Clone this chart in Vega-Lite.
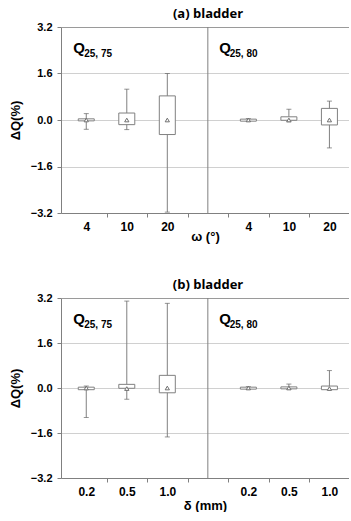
{
  "$schema": "https://vega.github.io/schema/vega-lite/v6.json",
  "padding": {"left": 9, "top": 8, "right": 0, "bottom": 0},
  "spacing": 36,
  "config": {
    "view": {"stroke": null},
    "font": "Liberation Sans",
    "axisX": {"grid": false, "domainColor": "#808080", "tickColor": "#808080", "tickSize": 4, "labelFontSize": 12, "labelFontWeight": "bold", "labelColor": "#000", "labelPadding": 4, "labelOverlap": false, "labelFlush": false, "labelBound": false, "titleFontSize": 13, "titleFontWeight": "bold", "titleColor": "#000", "titlePadding": -2},
    "axisY": {"grid": true, "gridColor": "#d0d0d0", "domainColor": "#808080", "tickColor": "#808080", "tickSize": 4, "labelFontSize": 11, "labelFontWeight": "bold", "labelColor": "#000", "labelPadding": 5, "titleFontSize": 13, "titleFontWeight": "bold", "titleColor": "#000", "titlePadding": 5, "minExtent": 34, "maxExtent": 34}
  },
  "datasets": {
    "boxes": [
      {"panel": "a", "pos": 1, "lo": -0.32, "q1": -0.03, "q3": 0.04, "hi": 0.22, "mean": 0.0},
      {"panel": "a", "pos": 2, "lo": -0.33, "q1": -0.16, "q3": 0.24, "hi": 1.06, "mean": 0.0},
      {"panel": "a", "pos": 3, "lo": -3.17, "q1": -0.5, "q3": 0.83, "hi": 1.6, "mean": 0.0},
      {"panel": "a", "pos": 5, "lo": -0.05, "q1": -0.04, "q3": 0.03, "hi": 0.05, "mean": 0.0},
      {"panel": "a", "pos": 6, "lo": -0.06, "q1": -0.01, "q3": 0.11, "hi": 0.37, "mean": 0.0},
      {"panel": "a", "pos": 7, "lo": -0.96, "q1": -0.17, "q3": 0.4, "hi": 0.65, "mean": 0.0},
      {"panel": "b", "pos": 1, "lo": -1.05, "q1": -0.06, "q3": 0.03, "hi": 0.07, "mean": 0.0},
      {"panel": "b", "pos": 2, "lo": -0.4, "q1": -0.01, "q3": 0.13, "hi": 3.09, "mean": -0.02},
      {"panel": "b", "pos": 3, "lo": -1.74, "q1": -0.17, "q3": 0.45, "hi": 3.01, "mean": 0.0},
      {"panel": "b", "pos": 5, "lo": -0.05, "q1": -0.04, "q3": 0.03, "hi": 0.05, "mean": 0.0},
      {"panel": "b", "pos": 6, "lo": -0.04, "q1": -0.03, "q3": 0.04, "hi": 0.14, "mean": 0.0},
      {"panel": "b", "pos": 7, "lo": -0.06, "q1": -0.06, "q3": 0.07, "hi": 0.62, "mean": -0.02}
    ]
  },
  "vconcat": [
    {
      "width": 288,
      "height": 186,
      "title": {"text": "(a) bladder", "font": "Open Sans", "fontSize": 13, "fontWeight": "bold", "offset": 0, "anchor": "middle", "frame": "group", "dx": 3, "color": "#000"},
      "layer": [
        {
          "data": {"name": "boxes"},
          "transform": [{"filter": "datum.panel == 'a'"}],
          "mark": {"type": "rule", "color": "#808080", "strokeWidth": 1},
          "encoding": {
            "x": {"field": "pos", "type": "quantitative", "scale": {"domain": [0.5, 7.36], "nice": false, "zero": false}, "axis": {"values": [1, 1.5, 2, 2.5, 3, 3.5, 4.5, 5, 5.5, 6, 6.5, 7], "labelExpr": "datum.value == 1 || datum.value == 5 ? '4' : datum.value == 2 || datum.value == 6 ? '10' : datum.value == 3 || datum.value == 7 ? '20' : ''", "tickOpacity": {"condition": {"test": "datum.value % 1 == 0", "value": 0}, "value": 1}, "title": "ω (°)"}},
            "y": {"field": "lo", "type": "quantitative", "scale": {"domain": [-3.2, 3.2], "nice": false, "zero": false}, "axis": {"values": [-3.2, -1.6, 0, 1.6, 3.2], "format": ".1f", "title": "ΔQ(%)", "gridColor": {"condition": {"test": "datum.value >= 3.1", "value": "#9a9a9a"}, "value": "#d0d0d0"}}},
            "y2": {"field": "hi"}
          }
        },
        {
          "data": {"name": "boxes"},
          "transform": [{"filter": "datum.panel == 'a'"}],
          "mark": {"type": "tick", "orient": "horizontal", "size": 5, "thickness": 1, "color": "#666666"},
          "encoding": {
            "x": {"field": "pos", "type": "quantitative", "scale": {"domain": [0.5, 7.36], "nice": false, "zero": false}, "axis": {"values": [1, 1.5, 2, 2.5, 3, 3.5, 4.5, 5, 5.5, 6, 6.5, 7], "labelExpr": "datum.value == 1 || datum.value == 5 ? '4' : datum.value == 2 || datum.value == 6 ? '10' : datum.value == 3 || datum.value == 7 ? '20' : ''", "tickOpacity": {"condition": {"test": "datum.value % 1 == 0", "value": 0}, "value": 1}, "title": "ω (°)"}},
            "y": {"field": "hi", "type": "quantitative", "scale": {"domain": [-3.2, 3.2], "nice": false, "zero": false}, "axis": {"values": [-3.2, -1.6, 0, 1.6, 3.2], "format": ".1f", "title": "ΔQ(%)", "gridColor": {"condition": {"test": "datum.value >= 3.1", "value": "#9a9a9a"}, "value": "#d0d0d0"}}}
          }
        },
        {
          "data": {"name": "boxes"},
          "transform": [{"filter": "datum.panel == 'a'"}],
          "mark": {"type": "tick", "orient": "horizontal", "size": 5, "thickness": 1, "color": "#666666"},
          "encoding": {
            "x": {"field": "pos", "type": "quantitative", "scale": {"domain": [0.5, 7.36], "nice": false, "zero": false}, "axis": {"values": [1, 1.5, 2, 2.5, 3, 3.5, 4.5, 5, 5.5, 6, 6.5, 7], "labelExpr": "datum.value == 1 || datum.value == 5 ? '4' : datum.value == 2 || datum.value == 6 ? '10' : datum.value == 3 || datum.value == 7 ? '20' : ''", "tickOpacity": {"condition": {"test": "datum.value % 1 == 0", "value": 0}, "value": 1}, "title": "ω (°)"}},
            "y": {"field": "lo", "type": "quantitative", "scale": {"domain": [-3.2, 3.2], "nice": false, "zero": false}, "axis": {"values": [-3.2, -1.6, 0, 1.6, 3.2], "format": ".1f", "title": "ΔQ(%)", "gridColor": {"condition": {"test": "datum.value >= 3.1", "value": "#9a9a9a"}, "value": "#d0d0d0"}}}
          }
        },
        {
          "data": {"name": "boxes"},
          "transform": [{"filter": "datum.panel == 'a'"}],
          "mark": {"type": "bar", "orient": "vertical", "size": 16, "fill": "white", "stroke": "#808080", "strokeWidth": 1},
          "encoding": {
            "x": {"field": "pos", "type": "quantitative", "scale": {"domain": [0.5, 7.36], "nice": false, "zero": false}, "axis": {"values": [1, 1.5, 2, 2.5, 3, 3.5, 4.5, 5, 5.5, 6, 6.5, 7], "labelExpr": "datum.value == 1 || datum.value == 5 ? '4' : datum.value == 2 || datum.value == 6 ? '10' : datum.value == 3 || datum.value == 7 ? '20' : ''", "tickOpacity": {"condition": {"test": "datum.value % 1 == 0", "value": 0}, "value": 1}, "title": "ω (°)"}},
            "y": {"field": "q1", "type": "quantitative", "scale": {"domain": [-3.2, 3.2], "nice": false, "zero": false}, "axis": {"values": [-3.2, -1.6, 0, 1.6, 3.2], "format": ".1f", "title": "ΔQ(%)", "gridColor": {"condition": {"test": "datum.value >= 3.1", "value": "#9a9a9a"}, "value": "#d0d0d0"}}},
            "y2": {"field": "q3"}
          }
        },
        {
          "data": {"name": "boxes"},
          "transform": [{"filter": "datum.panel == 'a'"}],
          "mark": {"type": "point", "shape": "triangle-up", "size": 18, "filled": true, "fill": "white", "stroke": "#707070", "strokeWidth": 1, "opacity": 1},
          "encoding": {
            "x": {"field": "pos", "type": "quantitative", "scale": {"domain": [0.5, 7.36], "nice": false, "zero": false}, "axis": {"values": [1, 1.5, 2, 2.5, 3, 3.5, 4.5, 5, 5.5, 6, 6.5, 7], "labelExpr": "datum.value == 1 || datum.value == 5 ? '4' : datum.value == 2 || datum.value == 6 ? '10' : datum.value == 3 || datum.value == 7 ? '20' : ''", "tickOpacity": {"condition": {"test": "datum.value % 1 == 0", "value": 0}, "value": 1}, "title": "ω (°)"}},
            "y": {"field": "mean", "type": "quantitative", "scale": {"domain": [-3.2, 3.2], "nice": false, "zero": false}, "axis": {"values": [-3.2, -1.6, 0, 1.6, 3.2], "format": ".1f", "title": "ΔQ(%)", "gridColor": {"condition": {"test": "datum.value >= 3.1", "value": "#9a9a9a"}, "value": "#d0d0d0"}}}
          }
        },
        {
          "data": {"values": [{"v": 0}]},
          "mark": {"type": "rule", "color": "#808080", "strokeWidth": 1},
          "encoding": {
            "x": {"datum": 4, "type": "quantitative", "scale": {"domain": [0.5, 7.36], "nice": false, "zero": false}, "axis": {"values": [1, 1.5, 2, 2.5, 3, 3.5, 4.5, 5, 5.5, 6, 6.5, 7], "labelExpr": "datum.value == 1 || datum.value == 5 ? '4' : datum.value == 2 || datum.value == 6 ? '10' : datum.value == 3 || datum.value == 7 ? '20' : ''", "tickOpacity": {"condition": {"test": "datum.value % 1 == 0", "value": 0}, "value": 1}, "title": "ω (°)"}}
          }
        },
        {
          "data": {"values": [{"v": 0}]},
          "mark": {"type": "text", "text": "Q", "font": "Liberation Sans", "fontSize": 15, "fontWeight": "bold", "align": "left", "baseline": "alphabetic", "color": "#000"},
          "encoding": {
            "x": {"datum": 0.68, "type": "quantitative", "scale": {"domain": [0.5, 7.36], "nice": false, "zero": false}, "axis": {"values": [1, 1.5, 2, 2.5, 3, 3.5, 4.5, 5, 5.5, 6, 6.5, 7], "labelExpr": "datum.value == 1 || datum.value == 5 ? '4' : datum.value == 2 || datum.value == 6 ? '10' : datum.value == 3 || datum.value == 7 ? '20' : ''", "tickOpacity": {"condition": {"test": "datum.value % 1 == 0", "value": 0}, "value": 1}, "title": "ω (°)"}},
            "y": {"datum": 2.29, "type": "quantitative", "scale": {"domain": [-3.2, 3.2], "nice": false, "zero": false}, "axis": {"values": [-3.2, -1.6, 0, 1.6, 3.2], "format": ".1f", "title": "ΔQ(%)", "gridColor": {"condition": {"test": "datum.value >= 3.1", "value": "#9a9a9a"}, "value": "#d0d0d0"}}}
          }
        },
        {
          "data": {"values": [{"v": 0}]},
          "mark": {"type": "text", "text": "25, 75", "font": "Liberation Sans", "fontSize": 10, "fontWeight": "bold", "align": "left", "baseline": "alphabetic", "dy": 4, "color": "#000"},
          "encoding": {
            "x": {"datum": 0.95, "type": "quantitative", "scale": {"domain": [0.5, 7.36], "nice": false, "zero": false}, "axis": {"values": [1, 1.5, 2, 2.5, 3, 3.5, 4.5, 5, 5.5, 6, 6.5, 7], "labelExpr": "datum.value == 1 || datum.value == 5 ? '4' : datum.value == 2 || datum.value == 6 ? '10' : datum.value == 3 || datum.value == 7 ? '20' : ''", "tickOpacity": {"condition": {"test": "datum.value % 1 == 0", "value": 0}, "value": 1}, "title": "ω (°)"}},
            "y": {"datum": 2.29, "type": "quantitative", "scale": {"domain": [-3.2, 3.2], "nice": false, "zero": false}, "axis": {"values": [-3.2, -1.6, 0, 1.6, 3.2], "format": ".1f", "title": "ΔQ(%)", "gridColor": {"condition": {"test": "datum.value >= 3.1", "value": "#9a9a9a"}, "value": "#d0d0d0"}}}
          }
        },
        {
          "data": {"values": [{"v": 0}]},
          "mark": {"type": "text", "text": "Q", "font": "Liberation Sans", "fontSize": 15, "fontWeight": "bold", "align": "left", "baseline": "alphabetic", "color": "#000"},
          "encoding": {
            "x": {"datum": 4.28, "type": "quantitative", "scale": {"domain": [0.5, 7.36], "nice": false, "zero": false}, "axis": {"values": [1, 1.5, 2, 2.5, 3, 3.5, 4.5, 5, 5.5, 6, 6.5, 7], "labelExpr": "datum.value == 1 || datum.value == 5 ? '4' : datum.value == 2 || datum.value == 6 ? '10' : datum.value == 3 || datum.value == 7 ? '20' : ''", "tickOpacity": {"condition": {"test": "datum.value % 1 == 0", "value": 0}, "value": 1}, "title": "ω (°)"}},
            "y": {"datum": 2.29, "type": "quantitative", "scale": {"domain": [-3.2, 3.2], "nice": false, "zero": false}, "axis": {"values": [-3.2, -1.6, 0, 1.6, 3.2], "format": ".1f", "title": "ΔQ(%)", "gridColor": {"condition": {"test": "datum.value >= 3.1", "value": "#9a9a9a"}, "value": "#d0d0d0"}}}
          }
        },
        {
          "data": {"values": [{"v": 0}]},
          "mark": {"type": "text", "text": "25, 80", "font": "Liberation Sans", "fontSize": 10, "fontWeight": "bold", "align": "left", "baseline": "alphabetic", "dy": 4, "color": "#000"},
          "encoding": {
            "x": {"datum": 4.54, "type": "quantitative", "scale": {"domain": [0.5, 7.36], "nice": false, "zero": false}, "axis": {"values": [1, 1.5, 2, 2.5, 3, 3.5, 4.5, 5, 5.5, 6, 6.5, 7], "labelExpr": "datum.value == 1 || datum.value == 5 ? '4' : datum.value == 2 || datum.value == 6 ? '10' : datum.value == 3 || datum.value == 7 ? '20' : ''", "tickOpacity": {"condition": {"test": "datum.value % 1 == 0", "value": 0}, "value": 1}, "title": "ω (°)"}},
            "y": {"datum": 2.29, "type": "quantitative", "scale": {"domain": [-3.2, 3.2], "nice": false, "zero": false}, "axis": {"values": [-3.2, -1.6, 0, 1.6, 3.2], "format": ".1f", "title": "ΔQ(%)", "gridColor": {"condition": {"test": "datum.value >= 3.1", "value": "#9a9a9a"}, "value": "#d0d0d0"}}}
          }
        }
      ]
    },
    {
      "width": 288,
      "height": 180,
      "title": {"text": "(b) bladder", "font": "Open Sans", "fontSize": 13, "fontWeight": "bold", "offset": 0, "anchor": "middle", "frame": "group", "dx": 3, "color": "#000"},
      "layer": [
        {
          "data": {"name": "boxes"},
          "transform": [{"filter": "datum.panel == 'b'"}],
          "mark": {"type": "rule", "color": "#808080", "strokeWidth": 1},
          "encoding": {
            "x": {"field": "pos", "type": "quantitative", "scale": {"domain": [0.5, 7.36], "nice": false, "zero": false}, "axis": {"values": [1, 1.5, 2, 2.5, 3, 3.5, 4.5, 5, 5.5, 6, 6.5, 7], "labelExpr": "datum.value == 1 || datum.value == 5 ? '0.2' : datum.value == 2 || datum.value == 6 ? '0.5' : datum.value == 3 || datum.value == 7 ? '1.0' : ''", "tickOpacity": {"condition": {"test": "datum.value % 1 == 0", "value": 0}, "value": 1}, "title": "δ (mm)", "titlePadding": 2}},
            "y": {"field": "lo", "type": "quantitative", "scale": {"domain": [-3.2, 3.2], "nice": false, "zero": false}, "axis": {"values": [-3.2, -1.6, 0, 1.6, 3.2], "format": ".1f", "title": "ΔQ(%)", "gridColor": {"condition": {"test": "datum.value >= 3.1", "value": "#9a9a9a"}, "value": "#d0d0d0"}}},
            "y2": {"field": "hi"}
          }
        },
        {
          "data": {"name": "boxes"},
          "transform": [{"filter": "datum.panel == 'b'"}],
          "mark": {"type": "tick", "orient": "horizontal", "size": 5, "thickness": 1, "color": "#666666"},
          "encoding": {
            "x": {"field": "pos", "type": "quantitative", "scale": {"domain": [0.5, 7.36], "nice": false, "zero": false}, "axis": {"values": [1, 1.5, 2, 2.5, 3, 3.5, 4.5, 5, 5.5, 6, 6.5, 7], "labelExpr": "datum.value == 1 || datum.value == 5 ? '0.2' : datum.value == 2 || datum.value == 6 ? '0.5' : datum.value == 3 || datum.value == 7 ? '1.0' : ''", "tickOpacity": {"condition": {"test": "datum.value % 1 == 0", "value": 0}, "value": 1}, "title": "δ (mm)", "titlePadding": 2}},
            "y": {"field": "hi", "type": "quantitative", "scale": {"domain": [-3.2, 3.2], "nice": false, "zero": false}, "axis": {"values": [-3.2, -1.6, 0, 1.6, 3.2], "format": ".1f", "title": "ΔQ(%)", "gridColor": {"condition": {"test": "datum.value >= 3.1", "value": "#9a9a9a"}, "value": "#d0d0d0"}}}
          }
        },
        {
          "data": {"name": "boxes"},
          "transform": [{"filter": "datum.panel == 'b'"}],
          "mark": {"type": "tick", "orient": "horizontal", "size": 5, "thickness": 1, "color": "#666666"},
          "encoding": {
            "x": {"field": "pos", "type": "quantitative", "scale": {"domain": [0.5, 7.36], "nice": false, "zero": false}, "axis": {"values": [1, 1.5, 2, 2.5, 3, 3.5, 4.5, 5, 5.5, 6, 6.5, 7], "labelExpr": "datum.value == 1 || datum.value == 5 ? '0.2' : datum.value == 2 || datum.value == 6 ? '0.5' : datum.value == 3 || datum.value == 7 ? '1.0' : ''", "tickOpacity": {"condition": {"test": "datum.value % 1 == 0", "value": 0}, "value": 1}, "title": "δ (mm)", "titlePadding": 2}},
            "y": {"field": "lo", "type": "quantitative", "scale": {"domain": [-3.2, 3.2], "nice": false, "zero": false}, "axis": {"values": [-3.2, -1.6, 0, 1.6, 3.2], "format": ".1f", "title": "ΔQ(%)", "gridColor": {"condition": {"test": "datum.value >= 3.1", "value": "#9a9a9a"}, "value": "#d0d0d0"}}}
          }
        },
        {
          "data": {"name": "boxes"},
          "transform": [{"filter": "datum.panel == 'b'"}],
          "mark": {"type": "bar", "orient": "vertical", "size": 16, "fill": "white", "stroke": "#808080", "strokeWidth": 1},
          "encoding": {
            "x": {"field": "pos", "type": "quantitative", "scale": {"domain": [0.5, 7.36], "nice": false, "zero": false}, "axis": {"values": [1, 1.5, 2, 2.5, 3, 3.5, 4.5, 5, 5.5, 6, 6.5, 7], "labelExpr": "datum.value == 1 || datum.value == 5 ? '0.2' : datum.value == 2 || datum.value == 6 ? '0.5' : datum.value == 3 || datum.value == 7 ? '1.0' : ''", "tickOpacity": {"condition": {"test": "datum.value % 1 == 0", "value": 0}, "value": 1}, "title": "δ (mm)", "titlePadding": 2}},
            "y": {"field": "q1", "type": "quantitative", "scale": {"domain": [-3.2, 3.2], "nice": false, "zero": false}, "axis": {"values": [-3.2, -1.6, 0, 1.6, 3.2], "format": ".1f", "title": "ΔQ(%)", "gridColor": {"condition": {"test": "datum.value >= 3.1", "value": "#9a9a9a"}, "value": "#d0d0d0"}}},
            "y2": {"field": "q3"}
          }
        },
        {
          "data": {"name": "boxes"},
          "transform": [{"filter": "datum.panel == 'b'"}],
          "mark": {"type": "point", "shape": "triangle-up", "size": 18, "filled": true, "fill": "white", "stroke": "#707070", "strokeWidth": 1, "opacity": 1},
          "encoding": {
            "x": {"field": "pos", "type": "quantitative", "scale": {"domain": [0.5, 7.36], "nice": false, "zero": false}, "axis": {"values": [1, 1.5, 2, 2.5, 3, 3.5, 4.5, 5, 5.5, 6, 6.5, 7], "labelExpr": "datum.value == 1 || datum.value == 5 ? '0.2' : datum.value == 2 || datum.value == 6 ? '0.5' : datum.value == 3 || datum.value == 7 ? '1.0' : ''", "tickOpacity": {"condition": {"test": "datum.value % 1 == 0", "value": 0}, "value": 1}, "title": "δ (mm)", "titlePadding": 2}},
            "y": {"field": "mean", "type": "quantitative", "scale": {"domain": [-3.2, 3.2], "nice": false, "zero": false}, "axis": {"values": [-3.2, -1.6, 0, 1.6, 3.2], "format": ".1f", "title": "ΔQ(%)", "gridColor": {"condition": {"test": "datum.value >= 3.1", "value": "#9a9a9a"}, "value": "#d0d0d0"}}}
          }
        },
        {
          "data": {"values": [{"v": 0}]},
          "mark": {"type": "rule", "color": "#808080", "strokeWidth": 1},
          "encoding": {
            "x": {"datum": 4, "type": "quantitative", "scale": {"domain": [0.5, 7.36], "nice": false, "zero": false}, "axis": {"values": [1, 1.5, 2, 2.5, 3, 3.5, 4.5, 5, 5.5, 6, 6.5, 7], "labelExpr": "datum.value == 1 || datum.value == 5 ? '0.2' : datum.value == 2 || datum.value == 6 ? '0.5' : datum.value == 3 || datum.value == 7 ? '1.0' : ''", "tickOpacity": {"condition": {"test": "datum.value % 1 == 0", "value": 0}, "value": 1}, "title": "δ (mm)", "titlePadding": 2}}
          }
        },
        {
          "data": {"values": [{"v": 0}]},
          "mark": {"type": "text", "text": "Q", "font": "Liberation Sans", "fontSize": 15, "fontWeight": "bold", "align": "left", "baseline": "alphabetic", "color": "#000"},
          "encoding": {
            "x": {"datum": 0.68, "type": "quantitative", "scale": {"domain": [0.5, 7.36], "nice": false, "zero": false}, "axis": {"values": [1, 1.5, 2, 2.5, 3, 3.5, 4.5, 5, 5.5, 6, 6.5, 7], "labelExpr": "datum.value == 1 || datum.value == 5 ? '0.2' : datum.value == 2 || datum.value == 6 ? '0.5' : datum.value == 3 || datum.value == 7 ? '1.0' : ''", "tickOpacity": {"condition": {"test": "datum.value % 1 == 0", "value": 0}, "value": 1}, "title": "δ (mm)", "titlePadding": 2}},
            "y": {"datum": 2.29, "type": "quantitative", "scale": {"domain": [-3.2, 3.2], "nice": false, "zero": false}, "axis": {"values": [-3.2, -1.6, 0, 1.6, 3.2], "format": ".1f", "title": "ΔQ(%)", "gridColor": {"condition": {"test": "datum.value >= 3.1", "value": "#9a9a9a"}, "value": "#d0d0d0"}}}
          }
        },
        {
          "data": {"values": [{"v": 0}]},
          "mark": {"type": "text", "text": "25, 75", "font": "Liberation Sans", "fontSize": 10, "fontWeight": "bold", "align": "left", "baseline": "alphabetic", "dy": 4, "color": "#000"},
          "encoding": {
            "x": {"datum": 0.95, "type": "quantitative", "scale": {"domain": [0.5, 7.36], "nice": false, "zero": false}, "axis": {"values": [1, 1.5, 2, 2.5, 3, 3.5, 4.5, 5, 5.5, 6, 6.5, 7], "labelExpr": "datum.value == 1 || datum.value == 5 ? '0.2' : datum.value == 2 || datum.value == 6 ? '0.5' : datum.value == 3 || datum.value == 7 ? '1.0' : ''", "tickOpacity": {"condition": {"test": "datum.value % 1 == 0", "value": 0}, "value": 1}, "title": "δ (mm)", "titlePadding": 2}},
            "y": {"datum": 2.29, "type": "quantitative", "scale": {"domain": [-3.2, 3.2], "nice": false, "zero": false}, "axis": {"values": [-3.2, -1.6, 0, 1.6, 3.2], "format": ".1f", "title": "ΔQ(%)", "gridColor": {"condition": {"test": "datum.value >= 3.1", "value": "#9a9a9a"}, "value": "#d0d0d0"}}}
          }
        },
        {
          "data": {"values": [{"v": 0}]},
          "mark": {"type": "text", "text": "Q", "font": "Liberation Sans", "fontSize": 15, "fontWeight": "bold", "align": "left", "baseline": "alphabetic", "color": "#000"},
          "encoding": {
            "x": {"datum": 4.28, "type": "quantitative", "scale": {"domain": [0.5, 7.36], "nice": false, "zero": false}, "axis": {"values": [1, 1.5, 2, 2.5, 3, 3.5, 4.5, 5, 5.5, 6, 6.5, 7], "labelExpr": "datum.value == 1 || datum.value == 5 ? '0.2' : datum.value == 2 || datum.value == 6 ? '0.5' : datum.value == 3 || datum.value == 7 ? '1.0' : ''", "tickOpacity": {"condition": {"test": "datum.value % 1 == 0", "value": 0}, "value": 1}, "title": "δ (mm)", "titlePadding": 2}},
            "y": {"datum": 2.29, "type": "quantitative", "scale": {"domain": [-3.2, 3.2], "nice": false, "zero": false}, "axis": {"values": [-3.2, -1.6, 0, 1.6, 3.2], "format": ".1f", "title": "ΔQ(%)", "gridColor": {"condition": {"test": "datum.value >= 3.1", "value": "#9a9a9a"}, "value": "#d0d0d0"}}}
          }
        },
        {
          "data": {"values": [{"v": 0}]},
          "mark": {"type": "text", "text": "25, 80", "font": "Liberation Sans", "fontSize": 10, "fontWeight": "bold", "align": "left", "baseline": "alphabetic", "dy": 4, "color": "#000"},
          "encoding": {
            "x": {"datum": 4.54, "type": "quantitative", "scale": {"domain": [0.5, 7.36], "nice": false, "zero": false}, "axis": {"values": [1, 1.5, 2, 2.5, 3, 3.5, 4.5, 5, 5.5, 6, 6.5, 7], "labelExpr": "datum.value == 1 || datum.value == 5 ? '0.2' : datum.value == 2 || datum.value == 6 ? '0.5' : datum.value == 3 || datum.value == 7 ? '1.0' : ''", "tickOpacity": {"condition": {"test": "datum.value % 1 == 0", "value": 0}, "value": 1}, "title": "δ (mm)", "titlePadding": 2}},
            "y": {"datum": 2.29, "type": "quantitative", "scale": {"domain": [-3.2, 3.2], "nice": false, "zero": false}, "axis": {"values": [-3.2, -1.6, 0, 1.6, 3.2], "format": ".1f", "title": "ΔQ(%)", "gridColor": {"condition": {"test": "datum.value >= 3.1", "value": "#9a9a9a"}, "value": "#d0d0d0"}}}
          }
        }
      ]
    }
  ]
}
